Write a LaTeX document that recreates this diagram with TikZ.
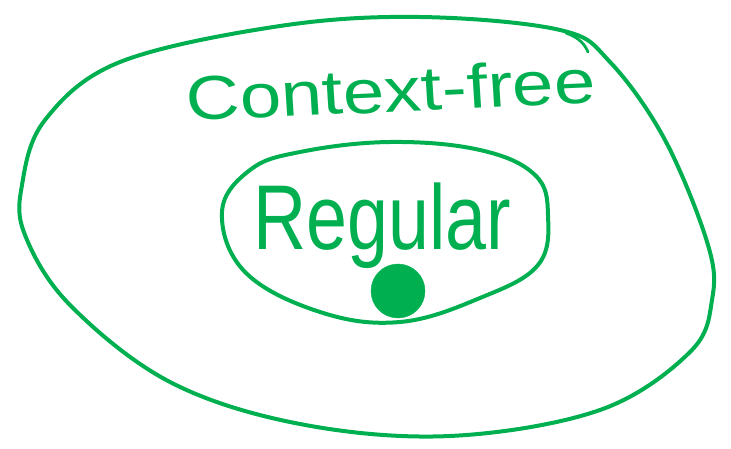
\documentclass[tikz,border=0pt]{standalone}
\usepackage{fontspec}
\setmainfont{Liberation Sans}
\usetikzlibrary{shapes.geometric}
\definecolor{pen}{HTML}{00B050}
\tikzset{
  blob/.style ={draw=pen,line width=4pt,line cap=round,line join=round},
  word/.style ={text=pen,inner sep=0pt,anchor=base},
  dotmark/.style ={fill=pen,draw=pen,ellipse,minimum width=54pt,minimum height=54pt,inner sep=0pt},
}

\begin{document}
\begin{tikzpicture}[x=1pt,y=-1pt]
  \useasboundingbox (0,0) rectangle (731,449);

  % ---------- outer set: context-free ----------
  \draw[blob] plot[smooth cycle,tension=.6] coordinates {
    (22,185) (45,120) (120,62) (280,26) (420,17) (560,30) (610,62)
    (665,140) (708,245) (712,300) (690,352) (600,410) (450,436)
    (300,424) (170,382) (70,305) (25,235)};
  % small hook at the top right
  \draw[blob,line width=2.8pt] (566,33) .. controls (580,38) and (585,45) .. (588,52);

  % ---------- inner set: regular ----------
  \draw[blob] plot[smooth cycle,tension=.65] coordinates {
    (222,212) (250,170) (300,152) (390,142) (480,150) (535,175)
    (548,215) (538,265) (480,298) (400,322) (320,312) (245,272)};

  % ---------- labels ----------
  \node[word,font=\fontsize{62}{62}\selectfont,xscale=1.2,rotate=3] (ctx) at (392,112) {Context-free};
  \node[word,font=\fontsize{92}{92}\selectfont,xscale=0.8] (reg) at (382,250) {Regular};

  % ---------- a language ----------
  \node[dotmark] (lang) at (398,291) {};

\end{tikzpicture}
\end{document}
